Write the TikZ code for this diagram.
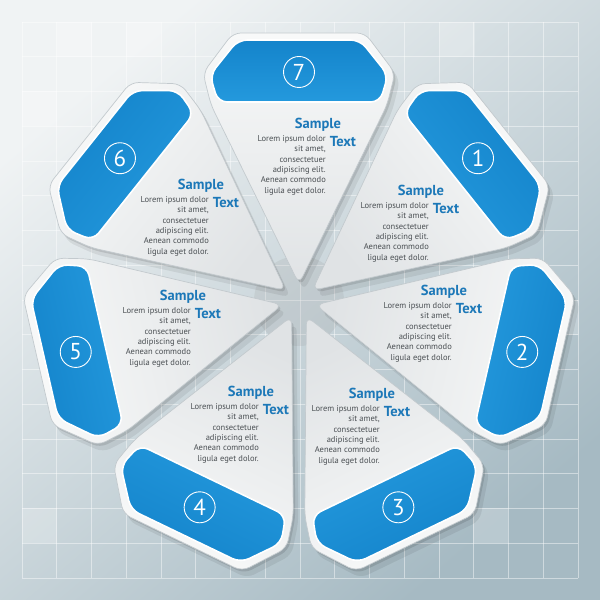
\documentclass[tikz,border=0pt]{standalone}
\usepackage{fontspec}
\setmainfont{PT Sans}
\usetikzlibrary{calc}
\definecolor{bgA}{HTML}{F0F3F4}
\definecolor{bgB}{HTML}{A6BAC3}
\definecolor{segTop}{HTML}{F8F9F9}
\definecolor{segBot}{HTML}{E0E3E5}
\definecolor{segEdge}{HTML}{C3CACE}
\definecolor{blueD}{HTML}{1484CB}
\definecolor{blueL}{HTML}{2499DD}
\definecolor{titleblue}{HTML}{1C78B8}
\definecolor{bodygray}{HTML}{4A4F53}
\tikzset{
  gridline/.style={draw=white, opacity=0.45, line width=0.7pt},
  litecell/.style={fill=white, opacity=0.22},
  numcirc/.style={circle, draw=white, line width=0.9pt, minimum size=31pt, inner sep=0pt, text=white, font=\fontsize{23}{23}\selectfont},
  sampletitle/.style={font=\bfseries\fontsize{14.5}{15}\selectfont, text=titleblue, inner sep=0pt},
  bodytext/.style={font=\fontsize{8.5}{10.4}\selectfont, text=bodygray, align=right, inner sep=0pt, anchor=north east},
  segshape/.style={rounded corners=8pt},
  blueshape/.style={rounded corners=9pt},
}
\def\outerpath{(0,17) -- (88,196) -- (96,228) -- (66,268) -- (-66,268) -- (-96,228) -- (-88,196) -- cycle}
\def\bluepath{(81,199) -- (89,226) -- (61,261) -- (-61,261) -- (-89,226) -- (-81,199) -- cycle}
\begin{document}
\begin{tikzpicture}[x=1pt,y=1pt]
\useasboundingbox (0,0) rectangle (600,600);
% background
\shade[top color=bgA, bottom color=bgB, shading angle=40] (0,0) rectangle (600,600);
\foreach \cx/\cy in {57/22, 126/22, 440/22, 22/91, 473/508, 22/508, 544/300}{
  \fill[litecell] (\cx,600-\cy) rectangle ++(34.75,-34.75);
}
\foreach \i in {0,...,16}{
  \draw[gridline] ({22+\i*34.75},22) -- ({22+\i*34.75},578);
  \draw[gridline] (22,{22+\i*34.75}) -- (578,{22+\i*34.75});
}
% center darkening
\fill[black!40, opacity=0.18] (299,299) circle (45);
% shadows
\foreach \k/\ang in {7/90, 1/38.571, 2/-12.857, 3/-64.286, 4/-115.714, 5/-167.143, 6/141.429}{
  \begin{scope}[shift={(304,292)}, rotate=\ang-90]
    \fill[black, opacity=0.07, segshape] \outerpath;
  \end{scope}
  \begin{scope}[shift={(301,296.5)}, rotate=\ang-90]
    \fill[black, opacity=0.11, segshape] \outerpath;
  \end{scope}
}
% segments
\foreach \k/\ang in {7/90, 1/38.571, 2/-12.857, 3/-64.286, 4/-115.714, 5/-167.143, 6/141.429}{
  \begin{scope}[shift={(299,299)}, rotate=\ang-90]
    \shade[segshape, top color=segTop, bottom color=segBot, shading angle=\ang-90] \outerpath;
    \draw[segshape, draw=segEdge, line width=0.7pt] \outerpath;
    \shade[blueshape, top color=blueD, bottom color=blueL, shading angle=\ang-90] \bluepath;
    \draw[blueshape, draw=white, line width=1.6pt] \bluepath;
    \node[numcirc] (n\k) at (0,229) {\k};
  \end{scope}
}
% texts
\foreach \k/\rx/\ry in {7/326/138, 1/429/205, 6/209/199, 5/191/310, 2/452/305, 4/259/406, 3/380/408}{
  \node[bodytext] (b\k) at (\rx, 600-\ry+3) {Lorem ipsum dolor\\sit amet,\\consectetuer\\adipiscing elit.\\Aenean commodo\\ligula eget dolor.};
  \node[sampletitle] (s\k) at (\rx-8, 600-\ry+13) {Sample};
  \node[sampletitle] (t\k) at (\rx+17, 600-\ry-4) {Text};
}
\end{tikzpicture}
\end{document}
